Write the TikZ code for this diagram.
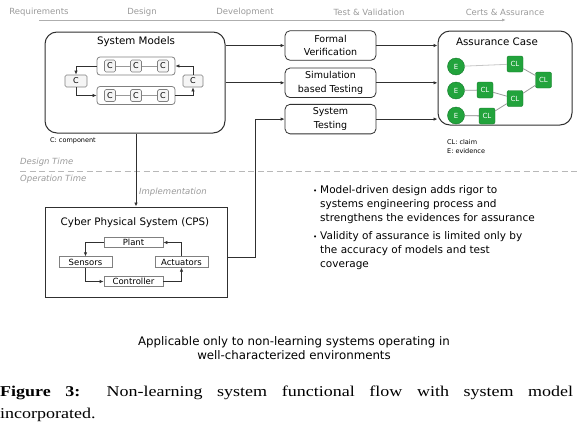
\documentclass[tikz,border=0pt]{standalone}
\usepackage{fontspec}
\setmainfont{DejaVu Sans}
\newfontfamily\capfont{Liberation Serif}[FakeStretch=1.2]
\usetikzlibrary{arrows.meta,positioning,calc}
\definecolor{fgray}{HTML}{9A9A9A}
\definecolor{fline}{HTML}{303030}
\definecolor{fgreen}{HTML}{22A33C}
\definecolor{fdkgreen}{HTML}{137A2A}
\tikzset{
  bigbox/.style   = {draw=fline, line width=1pt, rounded corners=12pt},
  testbox/.style  = {draw=fline, line width=0.8pt, rounded corners=5pt, minimum width=91pt,
                     minimum height=29.5pt, inner sep=0pt, align=center,
                     font=\fontsize{9.5}{13.5}\selectfont},
  grpbox/.style   = {draw=gray, line width=0.8pt, rounded corners=3pt,
                     minimum width=78pt, minimum height=18pt},
  cbox/.style     = {draw=gray, fill=gray!8, line width=0.7pt, rounded corners=1.5pt,
                     minimum width=11pt, minimum height=12pt, inner sep=0pt,
                     font=\fontsize{8}{9}\selectfont},
  cpsbox/.style   = {draw=gray, line width=0.7pt, minimum height=10.5pt, inner sep=0pt,
                     font=\fontsize{8.5}{10}\selectfont},
  evnode/.style   = {circle, fill=fgreen, draw=fdkgreen, minimum size=17pt, inner sep=0pt,
                     text=white, font=\fontsize{7}{8}\selectfont},
  clnode/.style   = {fill=fgreen, draw=fdkgreen, rounded corners=2pt, minimum size=16pt,
                     inner sep=0pt, text=white, font=\fontsize{7}{8}\selectfont},
  sig/.style      = {-{Latex[length=4pt,width=3.5pt]}, line width=0.8pt, draw=fline},
  gsline/.style   = {draw=gray!80, line width=0.8pt},
  stagelbl/.style = {text=fgray, inner sep=0pt, font=\fontsize{8.5}{10}\selectfont},
  timelbl/.style  = {text=fgray, anchor=west, inner sep=0pt,
                     font=\fontsize{8.5}{10}\selectfont\itshape},
  note/.style     = {anchor=west, inner sep=0pt, font=\fontsize{6.5}{8}\selectfont},
  bullettxt/.style= {anchor=north west, inner sep=0pt, align=left,
                     font=\fontsize{10.5}{14}\selectfont},
  title/.style    = {inner sep=0pt, font=\fontsize{10.3}{12}\selectfont},
}
\newcommand{\bul}{\llap{\fontsize{7}{8}\selectfont\textbullet\hspace{3pt}}}

\begin{document}
\begin{tikzpicture}[x=1pt,y=-1pt]
\useasboundingbox (0,0) rectangle (578,426);

\foreach \lbl/\xx in {Requirements/39, Design/142, Development/245,
                      Test \& Validation/369, Certs \& Assurance/505}
  \node[stagelbl] (stage\xx) at (\xx,12) {\lbl};
\coordinate (tl0) at (39,20);
\coordinate (tl1) at (506,20);
\draw[-{Latex[length=4pt,width=3pt]}, draw=fgray!80, line width=0.8pt] (tl0) -- (tl1);

\node[bigbox, minimum width=180pt, minimum height=101pt] (sysmod) at (135,82.5) {};
\node[title] (sysmodt) at (136,42) {System Models};
\node[grpbox] (grpa) at (136,66) {};
\node[grpbox] (grpb) at (136,95.5) {};
\foreach \g in {a,b} {
  \node[cbox] (\g1) at ($(grp\g)+(-26,0)$) {C};
  \node[cbox] (\g2) at (grp\g) {C};
  \node[cbox] (\g3) at ($(grp\g)+(27,0)$) {C};
  \draw[gsline] (\g1) -- (\g2) (\g2) -- (\g3);
}
\node[cbox, minimum width=22pt] (cleft) at (76,81) {C};
\node[cbox, minimum width=20pt] (cright) at (193,81) {C};
\draw[sig, line width=0.7pt] (grpa.west) -| (cleft.north);
\draw[sig, line width=0.7pt] (cleft.south) |- (grpb.west);
\draw[sig, line width=0.7pt] (grpb.east) -| (cright.south);
\draw[sig, line width=0.7pt] (cright.north) |- (grpa.east);
\node[note] (cnote) at (50,141) {C: component};

\node[testbox] (fv) at (330.5,45.5) {Formal\\Verification};
\node[testbox, below=7pt of fv] (sim) {Simulation\\based Testing};
\node[testbox, below=6pt of sim] (st) {System\\Testing};
\draw[sig] (sysmod.east |- fv.west) -- (fv.west);
\draw[sig] (sysmod.east |- sim.west) -- (sim.west);

\node[bigbox, minimum width=134pt, minimum height=94pt] (ac) at (505,78) {};
\node[title] (act) at (497,42) {Assurance Case};
\foreach \s in {fv,sim,st}
  \draw[sig] (\s.east) -- (ac.west |- \s.east);
\node[evnode] (e1) at (456,66.5) {E};
\node[evnode] (e2) at (456,90.5) {E};
\node[evnode] (e3) at (456,115.5) {E};
\node[clnode] (clt) at (515,64) {CL};
\node[clnode] (clr) at (543.5,80) {CL};
\node[clnode] (clm) at (515,98.5) {CL};
\node[clnode] (cl2) at (485,90) {CL};
\node[clnode] (cl3) at (487,116) {CL};
\draw[gsline, draw=gray!45] (e1) -- (clt);
\draw[gsline] (e2) -- (cl2);
\draw[gsline, draw=gray] (e3) -- (cl3);
\draw[gsline] (cl2) -- (clm) (cl3) -- (clm) (clt) -- (clr) (clm) -- (clr);
\node[note] (clnote) at (447,142) {CL: claim};
\node[note] (enote) at (447,151) {E: evidence};

\draw[fgray!70, line width=0.9pt, dash pattern=on 6pt off 3.5pt] (20,171) -- (578,171);
\node[timelbl] (dtime) at (20,162) {Design Time};
\node[timelbl] (otime) at (20,179) {Operation Time};

\node[draw=fline, line width=1pt, minimum width=182pt, minimum height=90pt] (cps) at (136,252) {};
\draw[sig] (sysmod.south -| cps.north) -- (cps.north);
\node[timelbl] (impl) at (139,192) {Implementation};
\node[title] (cpst) at (135,223) {Cyber Physical System (CPS)};
\node[cpsbox, minimum width=59pt] (plant) at (133.5,242.5) {Plant};
\node[cpsbox, minimum width=53pt] (sensors) at (85.5,262) {Sensors};
\node[cpsbox, minimum width=53pt] (actuators) at (181.5,262) {Actuators};
\node[cpsbox, minimum width=59pt] (controller) at (133.5,281.5) {Controller};
\draw[sig, line width=0.7pt] (plant.west) -| (sensors.north);
\draw[sig, line width=0.7pt] (sensors.south) |- (controller.west);
\draw[sig, line width=0.7pt] (controller.east) -| (actuators.south);
\draw[sig, line width=0.7pt] (actuators.north) |- (plant.east);
\draw[sig] ([yshift=-5pt]cps.east) -- ++(28,0) |- (st.west);

\node[bullettxt] (b1) at (320,185) {\bul Model-driven design adds rigor to\\
  systems engineering process and\\strengthens the evidences for assurance};
\node[bullettxt] (b2) at (320,231) {\bul Validity of assurance is limited only by\\
  the accuracy of models and test\\coverage};

\node[align=center, font=\fontsize{11.8}{14}\selectfont] (scope) at (294,348)
  {Applicable only to non-learning systems operating in\\well-characterized environments};

\node[anchor=north west, inner sep=0pt, text width=573pt, align=justify,
      font=\capfont\fontsize{15}{22}\selectfont] (caption) at (0,386)
  {\textbf{Figure 3:} Non-learning system functional flow with system model\linebreak incorporated.};
\end{tikzpicture}
\end{document}
